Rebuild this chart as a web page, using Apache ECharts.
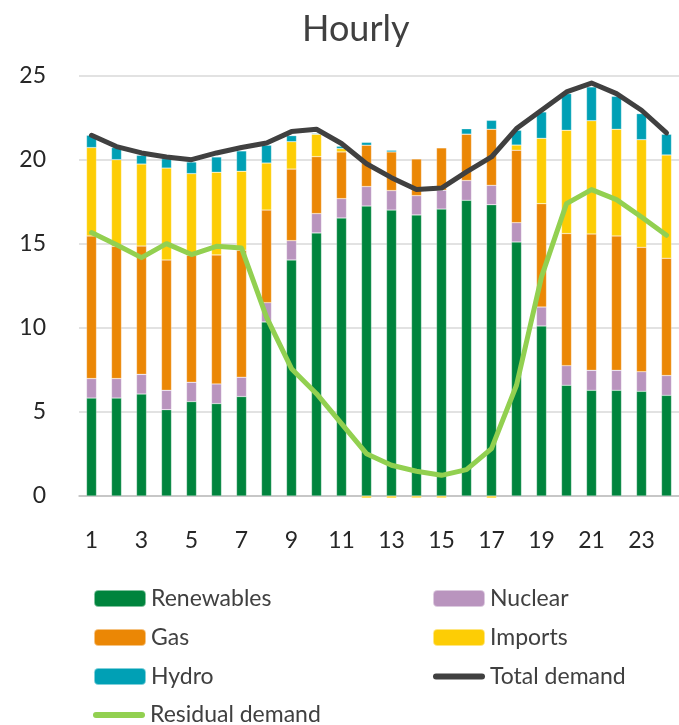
<!DOCTYPE html>
<html>
<head>
<meta charset="utf-8">
<script src="https://cdn.jsdelivr.net/npm/echarts@6/dist/echarts.min.js"></script>
<style>
  html, body { margin: 0; padding: 0; background: #fff; }
  #main { width: 679px; height: 725px; }
</style>
</head>
<body>
<div id="main"></div>
<script>
var hours = ['1','2','3','4','5','6','7','8','9','10','11','12','13','14','15','16','17','18','19','20','21','22','23','24'];
var renewables = [5.83,5.83,6.07,5.14,5.62,5.50,5.92,10.36,14.05,15.66,16.55,17.26,17.02,16.73,17.08,17.60,17.34,15.12,10.12,6.59,6.29,6.29,6.23,5.99];
var nuclear    = [1.16,1.16,1.17,1.15,1.15,1.17,1.15,1.15,1.15,1.15,1.15,1.16,1.16,1.15,1.12,1.18,1.15,1.15,1.13,1.17,1.19,1.19,1.17,1.18];
var gas        = [8.49,7.87,7.64,7.76,7.56,7.68,7.56,5.51,4.26,3.39,2.78,2.46,2.30,2.18,2.52,2.76,3.34,4.31,6.15,7.86,8.12,8.00,7.40,6.98];
var imports    = [5.26,5.16,4.88,5.47,4.86,4.92,4.70,2.80,1.63,1.33,0.20,-0.12,-0.12,-0.12,-0.12,0,-0.12,0.31,3.89,6.15,6.74,6.35,6.41,6.15];
var hydro      = [0.73,0.72,0.52,0.56,0.69,0.91,1.21,1.06,0.36,0.05,0.14,0.17,0.10,0,0,0.32,0.53,0.88,1.57,2.18,2.01,1.96,1.55,1.23];
var totalDemand    = [21.47,20.80,20.42,20.18,20.02,20.42,20.74,21.01,21.69,21.83,20.98,19.78,18.95,18.24,18.33,19.29,20.18,21.87,22.96,24.05,24.58,23.95,22.96,21.61];
var residualDemand = [15.68,14.96,14.19,15.02,14.37,14.86,14.76,10.65,7.58,6.09,4.31,2.52,1.83,1.47,1.23,1.57,2.82,6.59,13.04,17.40,18.24,17.64,16.61,15.52];

var font = 'Lato';
var lineIcon = 'path://M3,0 L49,0 A3,3 0 0 1 49,6 L3,6 A3,3 0 0 1 3,0 Z';
var myChart = echarts.init(document.getElementById('main'));

function barSeries(name, data, color) {
    return {
        name: name,
        type: 'bar',
        stack: 'supply',
        barWidth: 10,
        clip: false,
        data: data,
        itemStyle: { color: color, borderColor: 'rgba(255,255,255,0.5)', borderWidth: 0.5 }
    };
}

//图例样式
function legendBox(left, top, items) {
    return {
        orient: 'vertical',
        left: left, top: top,
        padding: 0,
        itemWidth: 52, itemHeight: 17, itemGap: 16, itemTextGap: 5,
        textStyle: { fontFamily: font, fontSize: 23, lineHeight: 23, color: '#404040' },
        data: items
    };
}

var option = {
    animation: false,
    backgroundColor: '#fff',
    title: {
        text: 'Hourly',
        left: 297,
        top: 6,
        textStyle: { fontFamily: font, fontWeight: 'normal', fontSize: 36, color: '#404040' }
    },
    legend: [
        legendBox(93, 587, ['Renewables', 'Gas', 'Hydro']),
        legendBox(432, 587, ['Nuclear', 'Imports',
            { name: 'Total demand', icon: lineIcon, itemStyle: { color: '#404040', borderWidth: 0 } }]),
        legendBox(93, 703.5, [
            { name: 'Residual demand', icon: lineIcon, itemStyle: { color: '#92d050', borderWidth: 0 } }])
    ],
    grid: { left: 79, right: -7, top: 76, bottom: 229 },
    xAxis: {
        type: 'category',
        data: hours,
        axisTick: { show: false },
        axisLine: { lineStyle: { color: '#bfbfbf', width: 1.5 } },
        axisLabel: { interval: 1, margin: 33, fontFamily: font, fontSize: 23, color: '#262626' }
    },
    yAxis: {
        type: 'value',
        min: 0, max: 25, interval: 5,
        axisLine: { show: false },
        axisTick: { show: false },
        axisLabel: { margin: 33, fontFamily: font, fontSize: 23, color: '#262626' },
        splitLine: { lineStyle: { color: '#d9d9d9', width: 1.5 } }
    },
    series: [
        barSeries('Renewables', renewables, '#00843d'),
        barSeries('Nuclear', nuclear, '#b994be'),
        barSeries('Gas', gas, '#eb8705'),
        barSeries('Imports', imports, '#fdcd05'),
        barSeries('Hydro', hydro, '#00a0b5'),
        {
            name: 'Total demand',
            type: 'line',
            data: totalDemand,
            symbol: 'none',
            lineStyle: { color: '#404040', width: 5, cap: 'round', join: 'round' },
            itemStyle: { color: '#404040' },
            z: 5
        },
        {
            name: 'Residual demand',
            type: 'line',
            data: residualDemand,
            symbol: 'none',
            lineStyle: { color: '#92d050', width: 5, cap: 'round', join: 'round' },
            itemStyle: { color: '#92d050' },
            z: 6
        }
    ]
};

myChart.setOption(option);
</script>
</body>
</html>
